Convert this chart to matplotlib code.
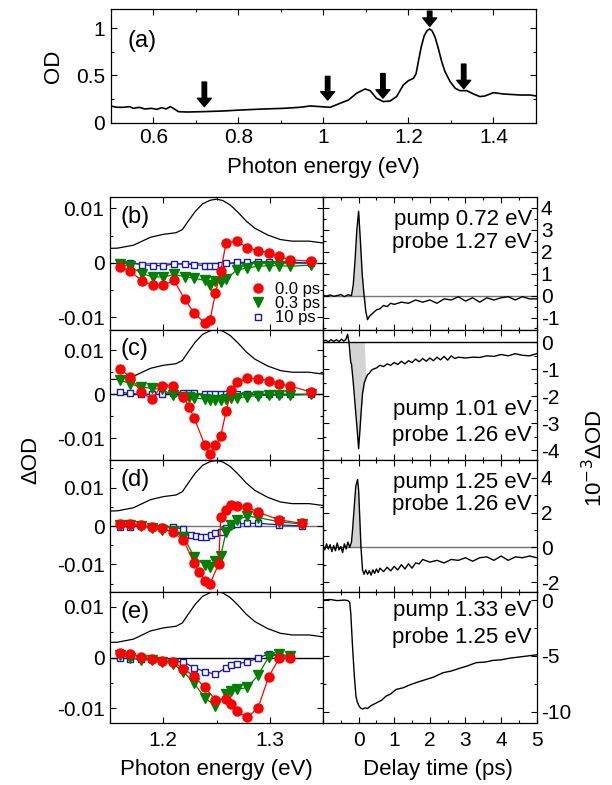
import matplotlib

matplotlib.use("Agg")
import matplotlib.pyplot as plt  # noqa: E402
import numpy as np  # noqa: E402
from matplotlib.lines import Line2D  # noqa: E402
from matplotlib.ticker import MultipleLocator, FixedLocator  # noqa: E402

plt.rcParams["font.family"] = ["Liberation Sans", "DejaVu Sans"]
plt.rcParams["axes.unicode_minus"] = False

# ---- (a) linear absorption spectrum --------------------------------------
OD_E = [0.500, 0.514, 0.530, 0.544, 0.553, 0.567, 0.580, 0.596, 0.608, 0.620,
        0.630, 0.640, 0.647, 0.659, 0.679, 0.718, 0.765, 0.804, 0.859, 0.906,
        0.945, 0.969, 0.993, 1.016, 1.039, 1.059, 1.078, 1.098, 1.110, 1.125,
        1.141, 1.157, 1.172, 1.188, 1.200, 1.212, 1.218, 1.223, 1.230, 1.237,
        1.244, 1.250, 1.256, 1.263, 1.270, 1.278, 1.286, 1.298, 1.310, 1.321,
        1.337, 1.353, 1.368, 1.380, 1.400, 1.423, 1.463, 1.486, 1.500]
OD = [0.177, 0.163, 0.163, 0.170, 0.152, 0.163, 0.145, 0.152, 0.141, 0.159,
      0.145, 0.170, 0.152, 0.117, 0.113, 0.117, 0.124, 0.134, 0.145, 0.152,
      0.163, 0.177, 0.170, 0.163, 0.205, 0.240, 0.311, 0.357, 0.339, 0.258,
      0.223, 0.230, 0.276, 0.399, 0.445, 0.470, 0.520, 0.640, 0.800, 0.920,
      0.975, 0.992, 0.970, 0.900, 0.790, 0.650, 0.540, 0.435, 0.364, 0.339,
      0.339, 0.304, 0.276, 0.283, 0.318, 0.304, 0.293, 0.293, 0.283]
ARROW_E = [0.72, 1.01, 1.14, 1.25, 1.33]
ARROW_TAIL = [0.43, 0.49, 0.52, 1.18, 0.62]
ARROW_TIP = [0.17, 0.24, 0.26, 1.02, 0.36]

# ---- (b)-(e) left: transient spectra -------------------------------------
E_b = [1.159, 1.169, 1.180, 1.190, 1.200, 1.210, 1.220, 1.229, 1.239, 1.244,
       1.249, 1.254, 1.259, 1.269, 1.279, 1.289, 1.299, 1.309, 1.319, 1.339]
b_red = [-0.0007, -0.0015, -0.0033, -0.0041, -0.0041, -0.0032, -0.0066,
         -0.0092, -0.0110, -0.0104, -0.0055, -0.0015, 0.0037, 0.0040, 0.0028,
         0.0022, 0.0019, 0.0012, 0.0006, 0.0003]
b_green = [-0.0002, -0.0006, -0.0020, -0.0025, -0.0026, -0.0021, -0.0025,
           -0.0028, -0.0032, -0.0040, -0.0034, -0.0035, -0.0030, -0.0013,
           -0.0009, -0.0006, -0.0005, -0.0005, -0.0006, -0.0004]
b_blue = [0.0000, 0.0000, -0.0003, -0.0005, -0.0005, -0.0002, -0.0002,
          -0.0003, -0.0005, -0.0006, -0.0005, -0.0004, -0.0001, 0.0001,
          0.0001, 0.0001, 0.0001, 0.0001, 0.0001, 0.0000]

E_c = [1.159, 1.169, 1.179, 1.189, 1.199, 1.209, 1.219, 1.224, 1.229, 1.239,
       1.244, 1.249, 1.254, 1.259, 1.264, 1.269, 1.279, 1.289, 1.299, 1.309,
       1.319, 1.339]
c_red = [0.0058, 0.0040, 0.0006, -0.0011, 0.0020, 0.0018, -0.0005, -0.0028,
         -0.0053, -0.0115, -0.0135, -0.0116, -0.0095, -0.0038, 0.0010, 0.0027,
         0.0036, 0.0035, 0.0031, 0.0024, 0.0019, 0.0005]
c_green = [0.0033, 0.0024, 0.0016, 0.0014, 0.0011, -0.0002, -0.0005, -0.0007,
           -0.0008, -0.0011, -0.0013, -0.0013, -0.0013, -0.0011, -0.0009,
           -0.0008, -0.0005, -0.0003, -0.0002, -0.0002, -0.0002, 0.0000]
c_blue = [0.0005, 0.0002, 0.0000, 0.0000, 0.0000, 0.0002, 0.0002, 0.0002,
          0.0002, 0.0000, 0.0000, 0.0000, 0.0000, 0.0000, 0.0000, 0.0000,
          0.0000, 0.0000, 0.0000, 0.0000, 0.0000, 0.0000]

E_d_red = [1.159, 1.169, 1.179, 1.189, 1.199, 1.209, 1.219, 1.229, 1.234,
           1.239, 1.244, 1.252, 1.254, 1.259, 1.264, 1.269, 1.279, 1.289,
           1.309, 1.330]
d_red = [0.0005, 0.0005, 0.0003, -0.0003, -0.0006, -0.0015, -0.0037, -0.0097,
         -0.0121, -0.0143, -0.0150, -0.0099, 0.0023, 0.0042, 0.0055, 0.0053,
         0.0049, 0.0036, 0.0016, 0.0007]
E_d_green = [1.159, 1.169, 1.179, 1.189, 1.199, 1.209, 1.219, 1.229, 1.239,
             1.244, 1.249, 1.254, 1.259, 1.264, 1.269, 1.279, 1.289, 1.309,
             1.330]
d_green = [0.0003, 0.0003, 0.0001, -0.0006, -0.0010, -0.0013, -0.0028,
           -0.0080, -0.0102, -0.0106, -0.0091, -0.0077, -0.0015, 0.0003,
           0.0016, 0.0026, 0.0022, 0.0011, 0.0005]
E_d_blue = [1.159, 1.169, 1.179, 1.189, 1.199, 1.209, 1.219, 1.226, 1.231,
            1.235, 1.240, 1.245, 1.249, 1.254, 1.259, 1.264, 1.269, 1.279,
            1.289, 1.309, 1.330]
d_blue = [-0.0002, -0.0002, 0.0000, -0.0003, -0.0002, -0.0002, -0.0008,
          -0.0023, -0.0026, -0.0028, -0.0028, -0.0023, -0.0019, -0.0015,
          -0.0006, 0.0003, 0.0005, 0.0007, 0.0007, 0.0003, 0.0000]

E_e = [1.159, 1.169, 1.179, 1.189, 1.199, 1.209, 1.219, 1.229, 1.239, 1.249,
       1.259, 1.264, 1.269, 1.279, 1.289, 1.299, 1.309, 1.319]
e_red = [0.0008, 0.0007, 0.0001, -0.0003, -0.0007, -0.0009, -0.0022, -0.0037,
         -0.0059, -0.0083, -0.0081, -0.0091, -0.0106, -0.0118, -0.0099,
         -0.0038, -0.0001, -0.0001]
e_green = [0.0005, 0.0000, -0.0004, -0.0005, -0.0009, -0.0012, -0.0028,
           -0.0051, -0.0079, -0.0096, -0.0071, -0.0066, -0.0063, -0.0059,
           -0.0035, 0.0001, 0.0007, 0.0003]
e_blue = [-0.0001, -0.0002, -0.0003, -0.0003, -0.0007, -0.0007, -0.0009,
          -0.0020, -0.0028, -0.0033, -0.0020, -0.0015, -0.0012, -0.0009,
          -0.0001, 0.0007, 0.0005, 0.0001]

DELAYS = ["0.0 ps", "0.3 ps", "10 ps"]
# absorption spectrum scale used for the thin line in each spectra panel
INSET_SCALE = [0.0118, 0.0148, 0.0172, 0.0131]

# ---- (b)-(e) right: time traces (units of 1e-3 OD) -----------------------
t_b = [-1.0, -0.9, -0.8, -0.7, -0.6, -0.5, -0.4, -0.3, -0.2, -0.15, -0.1,
       -0.05, 0.0, 0.05, 0.1, 0.15, 0.2, 0.25, 0.3, 0.4, 0.5, 0.6, 0.7, 0.8,
       0.9, 1.0, 1.2, 1.4, 1.6, 1.8, 2.0, 2.2, 2.4, 2.6, 2.8, 3.0, 3.2, 3.4,
       3.6, 3.8, 4.0, 4.2, 4.4, 4.6, 4.8, 5.0]
tr_b = [0.02, -0.02, 0.03, -0.03, 0.0, 0.05, -0.05, 0.04, 0.0, 0.5, 1.6, 3.0,
        3.85, 2.5, 1.0, 0.05, -0.7, -1.1, -0.95, -0.8, -0.65, -0.6, -0.45,
        -0.5, -0.35, -0.4, -0.3, -0.35, -0.2, -0.3, -0.2, -0.35, -0.15, -0.2,
        -0.05, -0.25, -0.1, -0.3, -0.1, -0.2, -0.1, -0.05, -0.2, -0.05,
        -0.15, -0.15]

t_c = [-1.0, -0.92, -0.85, -0.78, -0.7, -0.62, -0.55, -0.48, -0.42, -0.36,
       -0.31, -0.27, -0.22, -0.2, -0.15, -0.1, -0.05, 0.0, 0.04, 0.07, 0.11,
       0.16, 0.2, 0.25, 0.3, 0.35, 0.4, 0.5, 0.6, 0.7, 0.8, 0.9, 1.0, 1.1,
       1.2, 1.3, 1.4, 1.5, 1.6, 1.7, 1.8, 1.9, 2.0, 2.1, 2.2, 2.3, 2.4, 2.5,
       2.6, 2.7, 2.8, 3.0, 3.2, 3.4, 3.6, 3.8, 4.0, 4.2, 4.4, 4.6, 4.8, 5.0]
tr_c = [0.05, 0.08, 0.02, 0.1, 0.04, 0.1, 0.03, 0.12, 0.05, 0.1, 0.3, 0.0,
        -0.75, -0.8, -1.5, -2.3, -3.1, -3.95, -3.2, -2.6, -1.9, -1.5, -1.35,
        -1.2, -1.15, -1.05, -1.0, -0.95, -0.85, -0.9, -0.8, -0.85, -0.75,
        -0.82, -0.7, -0.8, -0.68, -0.75, -0.62, -0.72, -0.6, -0.7, -0.58,
        -0.68, -0.55, -0.65, -0.52, -0.66, -0.5, -0.6, -0.55, -0.58, -0.55,
        -0.56, -0.5, -0.52, -0.45, -0.5, -0.42, -0.48, -0.5, -0.42]

t_d = [-1.0, -0.95, -0.9, -0.85, -0.8, -0.75, -0.7, -0.65, -0.6, -0.55,
       -0.5, -0.45, -0.4, -0.35, -0.3, -0.25, -0.2, -0.17, -0.12, -0.08,
       -0.03, 0.0, 0.03, 0.066, 0.11, 0.15, 0.2, 0.25, 0.3, 0.35, 0.4, 0.45,
       0.5, 0.55, 0.6, 0.7, 0.8, 0.9, 1.0, 1.1, 1.2, 1.3, 1.4, 1.5, 1.6, 1.7,
       1.8, 2.0, 2.2, 2.4, 2.6, 2.8, 3.0, 3.2, 3.4, 3.6, 3.8, 4.0, 4.2, 4.4,
       4.6, 4.8, 5.0]
tr_d = [0.1, -0.15, 0.2, -0.1, 0.15, -0.25, 0.1, -0.2, 0.25, -0.15, 0.05,
        -0.3, 0.2, -0.1, 0.3, 0.0, 0.3, 1.0, 2.4, 3.5, 3.9, 3.3, 1.8, 0.0,
        -1.3, -1.55, -1.3, -1.55, -1.35, -1.6, -1.3, -1.5, -1.25, -1.45,
        -1.2, -1.4, -1.15, -1.35, -1.1, -1.3, -1.0, -1.25, -0.95, -1.2, -0.9,
        -0.95, -0.7, -0.85, -0.75, -0.9, -0.7, -0.75, -0.6, -0.8, -0.6,
        -0.55, -0.75, -0.5, -0.75, -0.55, -0.6, -0.5, -0.6]

t_e = [-1.0, -0.8, -0.6, -0.4, -0.3, -0.25, -0.22, -0.17, -0.12, -0.075,
       -0.04, 0.0, 0.05, 0.11, 0.18, 0.25, 0.35, 0.5, 0.65, 0.77, 0.9, 1.05,
       1.25, 1.43, 1.65, 1.9, 2.1, 2.37, 2.6, 2.84, 3.05, 3.3, 3.55, 3.77,
       4.0, 4.24, 4.5, 4.75, 5.0]
tr_e = [0.0, 0.05, -0.05, 0.0, -0.05, -0.2, -1.2, -4.2, -6.8, -8.6, -9.1,
        -9.4, -9.65, -9.75, -9.65, -9.7, -9.45, -9.2, -8.95, -8.6, -8.4, -8.0,
        -7.85, -7.6, -7.35, -7.1, -6.9, -6.5, -6.35, -6.1, -5.9, -5.6, -5.55,
        -5.4, -5.35, -5.2, -5.1, -5.0, -4.9]

PUMP_PROBE = [("pump 0.72 eV", "probe 1.27 eV"),
              ("pump 1.01 eV", "probe 1.26 eV"),
              ("pump 1.25 eV", "probe 1.26 eV"),
              ("pump 1.33 eV", "probe 1.25 eV")]

RED, GREEN, BLUE = "#ff0000", "#008000", "#1a1aa6"
W, H = 612.0, 785.0
TICK_FS, LABEL_FS = 15, 16

fig = plt.figure(figsize=(W / 100, H / 100), dpi=100)


def px_axes(x0, y0, x1, y1):
    """Axes placed by pixel corners (top-left origin)."""
    return fig.add_axes([x0 / W, 1 - y1 / H, (x1 - x0) / W, (y1 - y0) / H])


def style(ax):
    ax.tick_params(which="both", direction="in", top=True, right=True,
                   width=0.8, labelsize=TICK_FS, pad=4)
    ax.tick_params(which="major", length=4)
    ax.tick_params(which="minor", length=2.5)
    for s in ax.spines.values():
        s.set_linewidth(0.9)


# ---- panel (a) -----------------------------------------------------------
ax = px_axes(110.8, 9.3, 536, 122.7)
style(ax)
ax.plot(OD_E, OD, color="black", lw=1.2)
for e, tail, tip in zip(ARROW_E, ARROW_TAIL, ARROW_TIP):
    ax.annotate("", xy=(e, tip), xytext=(e, tail),
                arrowprops=dict(facecolor="black", edgecolor="black",
                                width=3.2, headwidth=10, headlength=6,
                                shrink=0))
ax.set_xlim(0.5, 1.5)
ax.set_ylim(0, 1.2)
ax.xaxis.set_major_locator(FixedLocator([0.6, 0.8, 1.0, 1.2, 1.4]))
ax.xaxis.set_minor_locator(MultipleLocator(0.1))
ax.yaxis.set_major_locator(MultipleLocator(0.5))
ax.yaxis.set_minor_locator(MultipleLocator(0.25))
ax.set_xticklabels(["0.6", "0.8", "1", "1.2", "1.4"])
ax.set_yticks([0, 0.5, 1])
ax.set_yticklabels(["0", "0.5", "1"])
ax.text(0.04, 0.72, "(a)", transform=ax.transAxes, fontsize=17,
        va="center", ha="left")
fig.text(323 / W, 1 - 167 / H, "Photon energy (eV)", ha="center",
         va="center", fontsize=LABEL_FS)
fig.text(54 / W, 1 - 66 / H, "OD", ha="center", va="center", rotation=90,
         fontsize=LABEL_FS)

# ---- panels (b)-(e) ------------------------------------------------------
rows = [(197, 330), (330, 460), (460, 592), (592, 723)]
spectra = [
    ((E_b, b_red), (E_b, b_green), (E_b, b_blue)),
    ((E_c, c_red), (E_c, c_green), (E_c, c_blue)),
    ((E_d_red, d_red), (E_d_green, d_green), (E_d_blue, d_blue)),
    ((E_e, e_red), (E_e, e_green), (E_e, e_blue)),
]
left_ylim = [(-0.0123, 0.0121), (-0.0149, 0.0146), (-0.0172, 0.0172),
             (-0.0129, 0.0129)]
zero_color = ["0.45", "black", "0.45", "black"]
traces = [(t_b, tr_b), (t_c, tr_c), (t_d, tr_d), (t_e, tr_e)]
right_ylim = [(-1.57, 4.5), (-4.37, 0.46), (-2.57, 5.02), (-11.0, 0.72)]
right_major = [1, 1, 2, 5]
right_minor = [0.5, 0.5, 1, 2.5]
shade = [(-0.3, 0.2), (-0.28, 0.16), (-0.25, 0.07), None]
right_zero = ["0.45", "black", "0.45", None]
letters = ["(b)", "(c)", "(d)", "(e)"]

OD_arr = np.asarray(OD)
for i, (y0, y1) in enumerate(rows):
    last = i == len(rows) - 1

    # left: spectra
    axl = px_axes(110, y0, 323, y1)
    style(axl)
    axl.axhline(0, color=zero_color[i], lw=1.0, zorder=1)
    axl.plot(OD_E, OD_arr * INSET_SCALE[i], color="black", lw=0.9, zorder=2)
    (er, yr), (eg, yg), (eb, yb) = spectra[i]
    axl.plot(eb, yb, color=BLUE, lw=0.9, marker="s", ms=5, mfc="white",
             mec=BLUE, mew=1.0, zorder=3)
    axl.plot(eg, yg, color=GREEN, lw=0.9, marker="v", ms=7, mfc=GREEN,
             mec=GREEN, zorder=4)
    axl.plot(er, yr, color=RED, lw=0.9, marker="o", ms=6.5, mfc=RED,
             mec=RED, zorder=5)
    axl.set_xlim(1.15, 1.35)
    axl.set_ylim(*left_ylim[i])
    axl.xaxis.set_major_locator(FixedLocator([1.2, 1.3]))
    axl.xaxis.set_minor_locator(MultipleLocator(0.05))
    axl.yaxis.set_major_locator(FixedLocator([-0.01, 0, 0.01]))
    axl.yaxis.set_minor_locator(MultipleLocator(0.005))
    axl.set_yticklabels(["-0.01", "0", "0.01"])
    if last:
        axl.set_xticklabels(["1.2", "1.3"])
        axl.tick_params(axis="x", pad=6)
    else:
        axl.tick_params(axis="x", labelbottom=False)
    axl.text(0.05, 0.85, letters[i], transform=axl.transAxes, fontsize=17,
             va="center", ha="left")
    if i == 0:
        handles = [
            Line2D([], [], ls="", marker="o", ms=6.5, color=RED),
            Line2D([], [], ls="", marker="v", ms=7, color=GREEN),
            Line2D([], [], ls="", marker="s", ms=5, mfc="white", mec=BLUE,
                   color=BLUE),
        ]
        axl.legend(handles, DELAYS, loc="lower right",
                   bbox_to_anchor=(0.985, 0.035), frameon=False,
                   fontsize=12, handlelength=0.8, handletextpad=0.6,
                   labelspacing=-0.04, borderpad=0, borderaxespad=0)

    # right: time traces
    axr = px_axes(323, y0, 536.7, y1)
    style(axr)
    t, tr = traces[i]
    t, tr = np.asarray(t), np.asarray(tr)
    if right_zero[i] is not None:
        axr.axhline(0, color=right_zero[i], lw=1.0, zorder=1)
    if shade[i] is not None:
        lo, hi = shade[i]
        axr.fill_between(t, tr, 0, where=(t >= lo) & (t <= hi),
                         color="#d3d3d3", lw=0, interpolate=True, zorder=0)
    axr.plot(t, tr, color="black", lw=1.0, zorder=2)
    axr.set_xlim(-1, 5)
    axr.set_ylim(*right_ylim[i])
    axr.xaxis.set_major_locator(MultipleLocator(1))
    axr.xaxis.set_minor_locator(MultipleLocator(0.5))
    axr.yaxis.set_major_locator(MultipleLocator(right_major[i]))
    axr.yaxis.set_minor_locator(MultipleLocator(right_minor[i]))
    axr.tick_params(axis="y", labelleft=False, labelright=True, pad=3)
    axr.yaxis.set_major_formatter(lambda v, p: f"{v:g}")
    if last:
        axr.xaxis.set_major_formatter(lambda v, p: f"{v:g}")
        axr.set_xticks([0, 1, 2, 3, 4, 5])
        axr.tick_params(axis="x", pad=6)
    else:
        axr.tick_params(axis="x", labelbottom=False)

    pump, probe = PUMP_PROBE[i]
    if i == 1:
        ty = (0.385, 0.19)
    elif i == 3:
        ty = (0.86, 0.65)
    else:
        ty = (0.83, 0.66)
    axr.text(0.978, ty[0], pump, transform=axr.transAxes, ha="right",
             va="center", fontsize=16)
    axr.text(0.978, ty[1], probe, transform=axr.transAxes, ha="right",
             va="center", fontsize=16)

fig.text(216 / W, 1 - 770 / H, "Photon energy (eV)", ha="center",
         va="center", fontsize=LABEL_FS)
fig.text(438 / W, 1 - 770 / H, "Delay time (ps)", ha="center",
         va="center", fontsize=LABEL_FS)
fig.text(31 / W, 1 - 460 / H, "ΔOD", ha="center", va="center",
         rotation=90, fontsize=LABEL_FS)
fig.text(595 / W, 1 - 458 / H, r"10$^{-3}$ΔOD", ha="center", va="center",
         rotation=90, fontsize=LABEL_FS)

fig.savefig("out.png", dpi=100)
